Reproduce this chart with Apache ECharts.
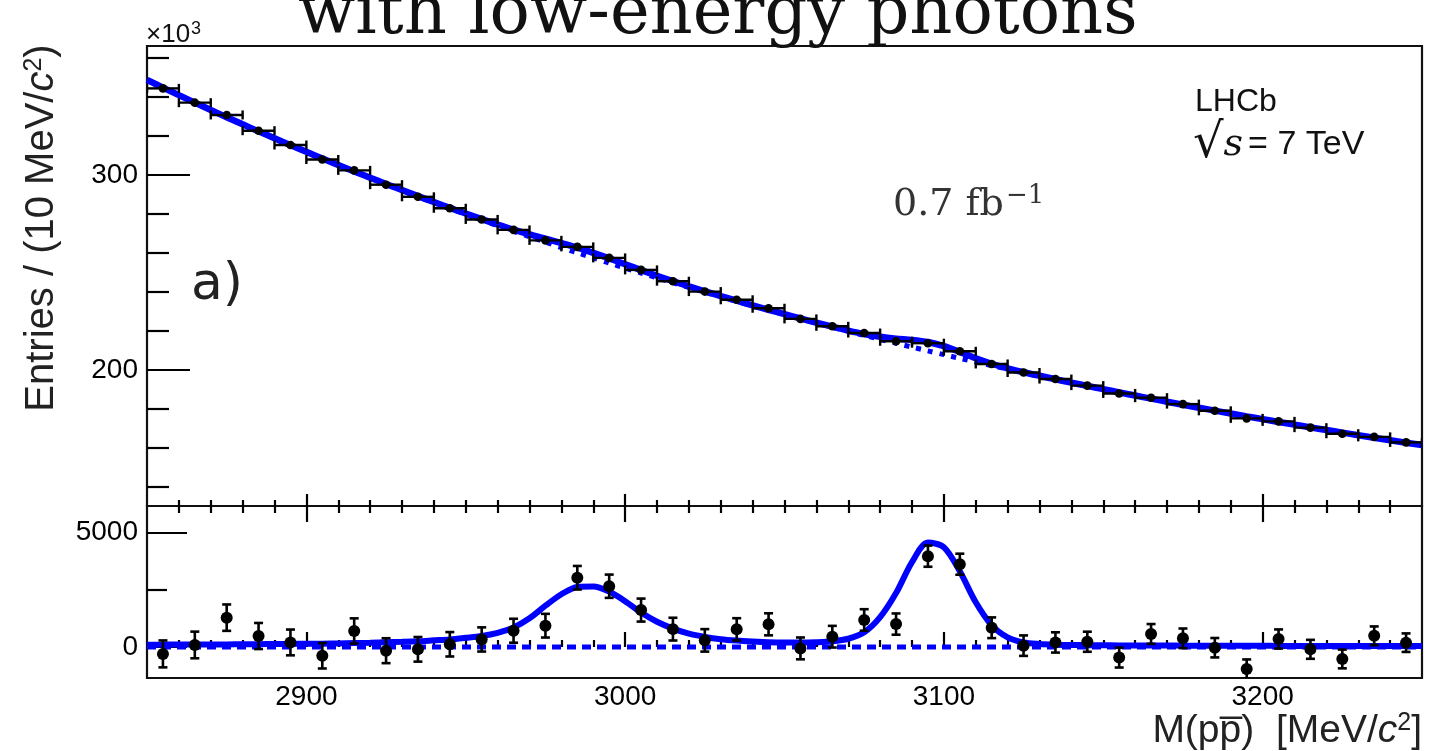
<!DOCTYPE html>
<html><head><meta charset="utf-8">
<script src="https://cdn.jsdelivr.net/npm/echarts@6/dist/echarts.min.js"></script>
<style>html,body{margin:0;padding:0;background:#fff}#c{width:1429px;height:751px}</style>
</head><body><div id="c"></div>
<script>
// ---------------- data ----------------
const binCenters = [2855,2865,2875,2885,2895,2905,2915,2925,2935,2945,2955,2965,2975,2985,2995,3005,3015,3025,3035,3045,
                    3055,3065,3075,3085,3095,3105,3115,3125,3135,3145,3155,3165,3175,3185,3195,3205,3215,3225,3235,3245];
const halfBin = 5;
// entries per 10 MeV/c^2, in units of 10^3
const entries = [344.46,337.14,330.84,322.77,315.43,307.99,302.41,295.08,288.86,282.98,
                 277.26,271.89,266.52,263.18,257.54,251.38,245.58,240.26,236.05,231.71,
                 226.24,222.45,219.01,214.78,213.80,209.63,203.14,198.76,195.40,192.03,
                 188.03,185.85,182.55,179.11,175.24,173.70,170.48,167.37,165.76,162.92];
// data minus background (entries)
const residuals = [-300,90,1280,480,200,-380,700,-160,-100,120,
                   330,710,930,3020,2650,1610,780,290,770,990,
                   -60,450,1180,1000,3960,3610,840,60,200,230,
                   -460,570,380,-30,-960,350,-100,-520,490,190];
const residualErrors = [587,581,575,568,562,555,550,543,537,532,
                        527,521,516,513,507,501,496,490,486,481,
                        476,472,468,463,462,458,451,446,442,438,
                        434,431,427,423,419,417,413,409,407,404];
// fit curves sampled every 5 MeV/c^2 from 2850 to 3250
const curveMasses = [2850,2855,2860,2865,2870,2875,2880,2885,2890,2895,2900,2905,2910,2915,2920,2925,2930,2935,2940,2945,
                     2950,2955,2960,2965,2970,2975,2980,2985,2990,2995,3000,3005,3010,3015,3020,3025,3030,3035,3040,3045,
                     3050,3055,3060,3065,3070,3075,3080,3085,3090,3095,3100,3105,3110,3115,3120,3125,3130,3135,3140,3145,
                     3150,3155,3160,3165,3170,3175,3180,3185,3190,3195,3200,3205,3210,3215,3220,3225,3230,3235,3240,3245,3250];
const totalFit = [348.80,344.87,340.99,337.16,333.40,329.68,326.03,322.42,318.87,315.37,311.92,308.52,305.18,301.88,298.65,295.45,292.31,289.21,286.18,283.19,
                  280.28,277.41,274.66,272.03,269.62,267.39,265.16,262.78,260.15,257.31,254.31,251.27,248.37,245.60,242.95,240.41,237.95,235.56,233.22,230.93,
                  228.69,226.50,224.34,222.25,220.26,218.47,217.09,216.13,215.49,214.39,212.26,209.32,206.10,203.25,200.91,198.90,197.07,195.30,193.57,191.88,
                  190.21,188.56,186.95,185.35,183.79,182.23,180.71,179.20,177.72,176.26,174.83,173.40,172.01,170.63,169.28,167.94,166.62,165.32,164.05,162.78,161.54];
const backgroundFit = [348.70,344.76,340.88,337.05,333.28,329.56,325.91,322.29,318.74,315.23,311.78,308.37,305.02,301.71,298.46,295.24,292.08,288.96,285.89,282.86,
                       279.88,276.93,274.04,271.18,268.37,265.59,262.86,260.16,257.51,254.89,252.31,249.77,247.27,244.80,242.37,239.97,237.61,235.28,232.98,230.72,
                       228.49,226.30,224.13,222.00,219.90,217.83,215.79,213.78,211.79,209.84,207.91,206.02,204.15,202.30,200.49,198.70,196.94,195.20,193.48,191.80,
                       190.13,188.49,186.88,185.28,183.72,182.17,180.65,179.14,177.66,176.20,174.77,173.35,171.96,170.58,169.23,167.89,166.57,165.27,164.00,162.73,161.49];
const signalFit = [100,105,110,110,115,115,120,125,130,135,140,145,155,170,185,205,225,250,290,330,
                   400,480,620,850,1250,1800,2300,2620,2640,2420,2000,1500,1100,800,580,440,340,280,240,210,
                   200,195,210,250,360,640,1300,2350,3700,4550,4350,3300,1950,950,420,200,130,100,90,80,
                   75,70,70,65,65,60,60,60,55,55,55,50,50,50,50,50,50,50,50,50,50];
const zeroLine = [[2850,0],[3250,0]];
// axis ticks / labels
const majorX = [2900,3000,3100,3200];
const minorX = [2860,2870,2880,2890,2910,2920,2930,2940,2950,2960,2970,2980,2990,3010,3020,3030,3040,3050,3060,3070,3080,3090,
                3110,3120,3130,3140,3150,3160,3170,3180,3190,3210,3220,3230,3240];
const majorYTop = [200,300];
const minorYTop = [140,160,180,220,240,260,280,320,340,360];
const majorYBot = [0,5000];
const minorYBot = [2500];

// ---------------- chart ----------------
const SANS = "'Liberation Sans', Arial, Helvetica, sans-serif";
const chart = echarts.init(document.getElementById('c'));

function pair(xs, ys){ return xs.map((x,i)=>[x, ys[i]]); }
const topPoints = binCenters.map((x,i)=>[x, entries[i], residualErrors[i]/1000]);
const botPoints = binCenters.map((x,i)=>[x, residuals[i], residualErrors[i]]);

function renderTop(params, api){
  const x = api.value(0), y = api.value(1), e = api.value(2);
  const c = api.coord([x,y]);
  const l = api.coord([x-halfBin,y]), r = api.coord([x+halfBin,y]);
  const t = api.coord([x,y+e]), b = api.coord([x,y-e]);
  const st = {stroke:'#000', lineWidth:2.4};
  return {type:'group', children:[
    {type:'line', shape:{x1:l[0],y1:l[1],x2:r[0],y2:r[1]}, style:st},
    {type:'line', shape:{x1:l[0],y1:l[1]-4.5,x2:l[0],y2:l[1]+4.5}, style:st},
    {type:'line', shape:{x1:r[0],y1:r[1]-4.5,x2:r[0],y2:r[1]+4.5}, style:st},
    {type:'line', shape:{x1:t[0],y1:t[1]-1,x2:b[0],y2:b[1]+1}, style:st},
    {type:'circle', shape:{cx:c[0],cy:c[1],r:4.3}, style:{fill:'#000'}}
  ]};
}
function renderBot(params, api){
  const x = api.value(0), y = api.value(1), e = api.value(2);
  const c = api.coord([x,y]);
  const t = api.coord([x,y+e]), b = api.coord([x,y-e]);
  const st = {stroke:'#000', lineWidth:2.6};
  return {type:'group', children:[
    {type:'line', shape:{x1:t[0],y1:t[1],x2:b[0],y2:b[1]}, style:st},
    {type:'line', shape:{x1:t[0]-4.5,y1:t[1],x2:t[0]+4.5,y2:t[1]}, style:st},
    {type:'line', shape:{x1:b[0]-4.5,y1:b[1],x2:b[0]+4.5,y2:b[1]}, style:st},
    {type:'circle', shape:{cx:c[0],cy:c[1],r:6}, style:{fill:'#000'}}
  ]};
}

function tickAxis(extra){
  return Object.assign({
    type:'value', min:2850, max:3250,
    axisLine:{show:false}, splitLine:{show:false},
    axisLabel:{show:false},
  }, extra);
}
const tickLine = {color:'#000', width:2.2};
const plain = v => String(v);
const labelStyle = {fontSize:28, fontFamily:SANS, color:'#000'};

const option = {
  animation:false,
  backgroundColor:'#fff',
  grid:[
    {left:147, top:46, width:1275, height:460, show:true, borderColor:'#111', borderWidth:2.2, backgroundColor:'transparent'},
    {left:147, top:506, width:1275, height:172, show:true, borderColor:'#111', borderWidth:2.2, backgroundColor:'transparent'}
  ],
  xAxis:[
    tickAxis({gridIndex:0, position:'bottom', axisTick:{inside:true, length:12, customValues:majorX, lineStyle:tickLine}}),
    tickAxis({gridIndex:0, position:'bottom', axisTick:{inside:true, length:6, customValues:minorX, lineStyle:tickLine}}),
    tickAxis({gridIndex:1, position:'bottom', axisTick:{inside:true, length:15, customValues:majorX, lineStyle:tickLine},
      axisLabel:Object.assign({show:true, customValues:majorX, margin:5, formatter:plain}, labelStyle)}),
    tickAxis({gridIndex:1, position:'bottom', axisTick:{inside:true, length:7, customValues:minorX, lineStyle:tickLine}}),
    tickAxis({gridIndex:1, position:'top', axisTick:{inside:true, length:16, customValues:majorX, lineStyle:tickLine}}),
    tickAxis({gridIndex:1, position:'top', axisTick:{inside:true, length:7, customValues:minorX, lineStyle:tickLine}})
  ],
  yAxis:[
    {type:'value', gridIndex:0, min:130.3, max:366.2, position:'left', axisLine:{show:false}, splitLine:{show:false},
      axisTick:{inside:true, length:43, customValues:majorYTop, lineStyle:tickLine},
      axisLabel:Object.assign({customValues:majorYTop, margin:9, formatter:plain}, labelStyle)},
    {type:'value', gridIndex:0, min:130.3, max:366.2, position:'left', axisLine:{show:false}, splitLine:{show:false},
      axisTick:{inside:true, length:22, customValues:minorYTop, lineStyle:tickLine}, axisLabel:{show:false}},
    {type:'value', gridIndex:1, min:-1350, max:6146, position:'left', axisLine:{show:false}, splitLine:{show:false},
      axisTick:{inside:true, length:40, customValues:majorYBot, lineStyle:tickLine},
      axisLabel:Object.assign({customValues:majorYBot, margin:9, formatter:plain}, labelStyle)},
    {type:'value', gridIndex:1, min:-1350, max:6146, position:'left', axisLine:{show:false}, splitLine:{show:false},
      axisTick:{inside:true, length:20, customValues:minorYBot, lineStyle:tickLine}, axisLabel:{show:false}}
  ],
  series:[
    {type:'line', xAxisIndex:0, yAxisIndex:0, data:pair(curveMasses, backgroundFit), showSymbol:false, smooth:0.3,
      lineStyle:{color:'#0000ff', width:5, type:[5,7]}, z:2},
    {type:'line', xAxisIndex:0, yAxisIndex:0, data:pair(curveMasses, totalFit), showSymbol:false, smooth:0.3,
      lineStyle:{color:'#0000ff', width:6.5}, z:3},
    {type:'custom', xAxisIndex:0, yAxisIndex:0, data:topPoints, renderItem:renderTop, encode:{x:0,y:1}, clip:true, z:4},
    {type:'line', xAxisIndex:2, yAxisIndex:2, data:zeroLine, showSymbol:false,
      lineStyle:{color:'#0000ff', width:5, type:[9,6]}, z:2},
    {type:'line', xAxisIndex:2, yAxisIndex:2, data:pair(curveMasses, signalFit), showSymbol:false, smooth:0.3,
      lineStyle:{color:'#0000ff', width:6}, z:3},
    {type:'custom', xAxisIndex:2, yAxisIndex:2, data:botPoints, renderItem:renderBot, encode:{x:0,y:1}, clip:true, z:4}
  ],
  graphic:[
    {type:'text', x:298, y:16, style:{text:'with low-energy photons', font:"67px 'DejaVu Serif', serif", fill:'#111', align:'left', verticalAlign:'middle'}},
    {type:'text', x:146, y:35, style:{text:'{n|\u00d710}{s|3}', align:'left', verticalAlign:'middle',
      rich:{n:{fontSize:26, fontFamily:SANS, fill:'#111'}, s:{fontSize:18, fontFamily:SANS, fill:'#111', padding:[0,0,12,1]}}}},
    {type:'text', x:42, y:228, rotation:Math.PI/2, style:{
      text:'{n|Entries / (10 MeV/}{i|c}{s|2}{n|)}', align:'center', verticalAlign:'middle',
      rich:{n:{fontSize:40, fontFamily:SANS, fill:'#222'}, i:{fontSize:40, fontFamily:SANS, fontStyle:'italic', fill:'#222'},
            s:{fontSize:25, fontFamily:SANS, fill:'#222', padding:[0,0,16,0]}}}},
    {type:'text', x:1422, y:731, style:{
      text:'{n|M(p}{n|p\u0305}{n|)  [MeV/}{i|c}{s|2}{n|]}', align:'right', verticalAlign:'middle',
      rich:{n:{fontSize:39, fontFamily:SANS, fill:'#222'}, i:{fontSize:39, fontFamily:SANS, fontStyle:'italic', fill:'#222'},
            s:{fontSize:25, fontFamily:SANS, fill:'#222', padding:[0,0,16,0]}}}},
    {type:'text', x:191, y:285, style:{text:'a)', font:"52px 'DejaVu Sans', sans-serif", fill:'#222', align:'left', verticalAlign:'middle'}},
    {type:'text', x:893, y:205, style:{text:'{n|0.7 fb}{s|\u22121}', align:'left', verticalAlign:'middle',
      rich:{n:{fontSize:38, fontFamily:"'DejaVu Serif', serif", fill:'#333'},
            s:{fontSize:26, fontFamily:"'DejaVu Serif', serif", fill:'#333', padding:[0,0,18,2]}}}},
    {type:'text', x:1195, y:102, style:{text:'LHCb', font:"32px "+SANS, fill:'#111', align:'left', verticalAlign:'middle'}},
    {type:'text', x:1193, y:145, style:{
      text:'{r|\u221a}{s|s}{n|= 7 TeV}', align:'left', verticalAlign:'middle',
      rich:{r:{fontSize:48, fontFamily:"'DejaVu Sans', sans-serif", fill:'#111'},
            s:{fontSize:38, fontFamily:"'DejaVu Serif', serif", fontStyle:'italic', fill:'#111', padding:[0,5,0,0]},
            n:{fontSize:34, fontFamily:SANS, fill:'#111'}}}}
  ]
};
chart.setOption(option);
</script>
</body></html>
